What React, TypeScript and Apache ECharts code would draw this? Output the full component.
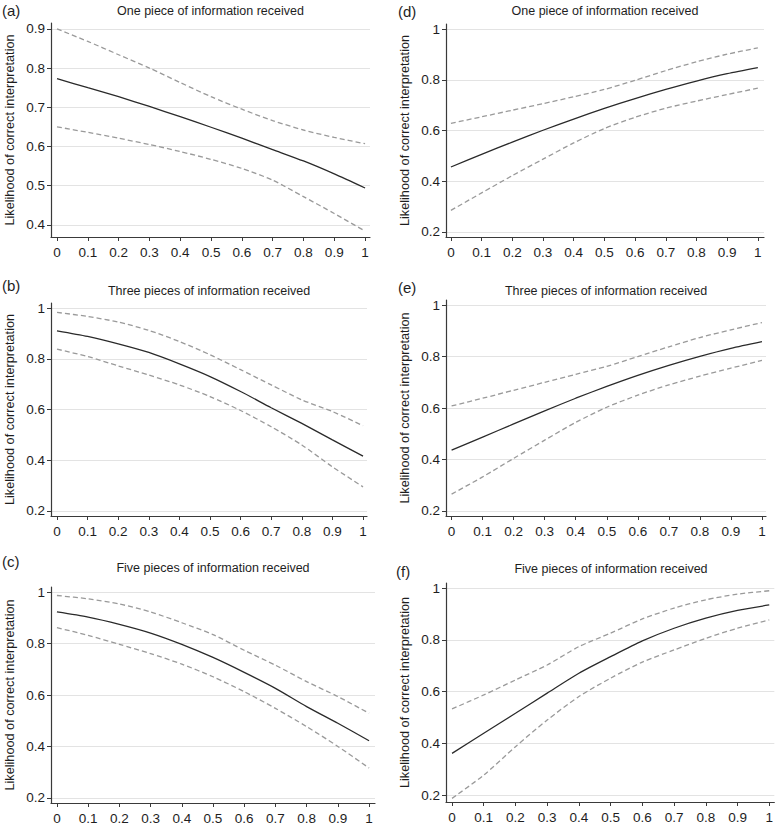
import React, { useEffect, useRef } from "react";
import * as echarts from "echarts";

// ---- data ----
const xValues = [0, 0.1, 0.2, 0.3, 0.4, 0.5, 0.6, 0.7, 0.8, 0.9, 1];
const xTickValues = [0, 0.1, 0.2, 0.3, 0.4, 0.5, 0.6, 0.7, 0.8, 0.9, 1];
const yTicksA = [0.4, 0.5, 0.6, 0.7, 0.8, 0.9];
const yTicksOther = [0.2, 0.4, 0.6, 0.8, 1];
const yAxisTitle = "Likelihood of correct interpretation";
const panelLabels = ["(a)", "(b)", "(c)", "(d)", "(e)", "(f)"];
const panelTitles = [
  "One piece of information received",
  "Three pieces of information received",
  "Five pieces of information received",
  "One piece of information received",
  "Three pieces of information received",
  "Five pieces of information received",
];

const aMid = [0.773, 0.75, 0.727, 0.702, 0.676, 0.649, 0.621, 0.592, 0.563, 0.53, 0.494];
const aUp = [0.9, 0.868, 0.834, 0.8, 0.763, 0.727, 0.695, 0.666, 0.642, 0.623, 0.607];
const aLo = [0.65, 0.636, 0.621, 0.605, 0.587, 0.567, 0.544, 0.514, 0.472, 0.429, 0.384];

const bMid = [0.91, 0.888, 0.859, 0.825, 0.78, 0.73, 0.671, 0.607, 0.545, 0.48, 0.416];
const bUp = [0.983, 0.967, 0.945, 0.912, 0.868, 0.816, 0.757, 0.697, 0.638, 0.592, 0.536];
const bLo = [0.838, 0.809, 0.772, 0.736, 0.697, 0.651, 0.596, 0.532, 0.46, 0.374, 0.295];

const cMid = [0.923, 0.903, 0.875, 0.841, 0.797, 0.746, 0.688, 0.626, 0.555, 0.49, 0.422];
const cUp = [0.987, 0.974, 0.954, 0.923, 0.881, 0.835, 0.774, 0.716, 0.652, 0.594, 0.529];
const cLo = [0.862, 0.832, 0.797, 0.761, 0.72, 0.671, 0.613, 0.548, 0.477, 0.4, 0.316];

const dMid = [0.456, 0.506, 0.554, 0.601, 0.645, 0.687, 0.726, 0.762, 0.795, 0.824, 0.848];
const dUp = [0.628, 0.654, 0.68, 0.706, 0.733, 0.762, 0.798, 0.836, 0.871, 0.901, 0.926];
const dLo = [0.285, 0.354, 0.422, 0.487, 0.551, 0.608, 0.652, 0.688, 0.716, 0.742, 0.767];

const eMid = [0.436, 0.487, 0.538, 0.589, 0.638, 0.684, 0.727, 0.766, 0.801, 0.832, 0.858];
const eUp = [0.608, 0.638, 0.669, 0.7, 0.731, 0.762, 0.8, 0.838, 0.874, 0.904, 0.932];
const eLo = [0.265, 0.332, 0.404, 0.475, 0.544, 0.603, 0.65, 0.69, 0.724, 0.755, 0.785];

const fMid = [0.361, 0.439, 0.516, 0.594, 0.671, 0.735, 0.796, 0.845, 0.884, 0.914, 0.935];
const fUp = [0.533, 0.587, 0.645, 0.703, 0.774, 0.826, 0.881, 0.923, 0.955, 0.977, 0.99];
const fLo = [0.187, 0.277, 0.387, 0.49, 0.581, 0.652, 0.714, 0.761, 0.806, 0.845, 0.877];

const panelData = [
  { mid: aMid, up: aUp, lo: aLo, yTicks: yTicksA },
  { mid: bMid, up: bUp, lo: bLo, yTicks: yTicksOther },
  { mid: cMid, up: cUp, lo: cLo, yTicks: yTicksOther },
  { mid: dMid, up: dUp, lo: dLo, yTicks: yTicksOther },
  { mid: eMid, up: eUp, lo: eLo, yTicks: yTicksOther },
  { mid: fMid, up: fUp, lo: fLo, yTicks: yTicksOther },
];

// ---- layout (pixels / axis extents) ----
const layouts = [
  { left: 51, top: 23, width: 319, height: 214, xMin: -0.0195, xMax: 1.016, yMin: 0.369, yMax: 0.915, labelX: 2, labelY: 10.5, titleY: 11 },
  { left: 51, top: 303, width: 316, height: 213, xMin: -0.0196, xMax: 1.013, yMin: 0.18, yMax: 1.02, labelX: 2, labelY: 285.5, titleY: 291 },
  { left: 51, top: 587, width: 324, height: 216, xMin: -0.019, xMax: 1.019, yMin: 0.18, yMax: 1.02, labelX: 2, labelY: 561, titleY: 568 },
  { left: 446, top: 24, width: 318, height: 213, xMin: -0.016, xMax: 1.02, yMin: 0.18, yMax: 1.02, labelX: 398, labelY: 11.5, titleY: 11 },
  { left: 446, top: 300, width: 320, height: 216, xMin: -0.018, xMax: 1.013, yMin: 0.18, yMax: 1.02, labelX: 398, labelY: 287.5, titleY: 291 },
  { left: 446, top: 583, width: 330, height: 219, xMin: -0.019, xMax: 1.016, yMin: 0.173, yMax: 1.02, labelX: 396, labelY: 571, titleY: 569 },
];

const FONT = "'Liberation Sans', Arial, Helvetica, sans-serif";
const AXIS_COLOR = "#3a3a3a";
const TEXT_COLOR = "#1e1e1e";
const GRID_COLOR = "#e3e3e3";
const SOLID_COLOR = "#2a2a2a";
const DASH_COLOR = "#9a9a9a";

function fmt(v: number): string {
  const r = Math.round(v * 100) / 100;
  return String(r);
}

export default function App() {
  const ref = useRef<HTMLDivElement>(null);

  useEffect(() => {
    if (!ref.current) return;
    const chart = echarts.init(ref.current, undefined, { renderer: "svg" });

    const grids = layouts.map((l) => ({
      left: l.left,
      top: l.top,
      width: l.width,
      height: l.height,
      containLabel: false,
    }));

    const xAxes = layouts.map((l, i) => ({
      type: "value",
      gridIndex: i,
      min: l.xMin,
      max: l.xMax,
      axisLine: { show: true, onZero: false, lineStyle: { color: AXIS_COLOR, width: 1.2 } },
      axisTick: { show: true, inside: false, length: 4, customValues: xTickValues, lineStyle: { color: AXIS_COLOR, width: 1 } },
      axisLabel: {
        show: true,
        customValues: xTickValues,
        margin: 8,
        fontSize: 13.5,
        fontFamily: FONT,
        color: TEXT_COLOR,
        formatter: (v: number) => fmt(v),
      },
      splitLine: { show: false },
    }));

    const yAxes = layouts.map((l, i) => ({
      type: "value",
      gridIndex: i,
      min: l.yMin,
      max: l.yMax,
      axisLine: { show: true, onZero: false, lineStyle: { color: AXIS_COLOR, width: 1.2 } },
      axisTick: { show: true, inside: false, length: 4, customValues: panelData[i].yTicks, lineStyle: { color: AXIS_COLOR, width: 1 } },
      axisLabel: {
        show: true,
        customValues: panelData[i].yTicks,
        margin: 6,
        fontSize: 13.5,
        fontFamily: FONT,
        color: TEXT_COLOR,
        formatter: (v: number) => fmt(v),
      },
      splitLine: { show: true, lineStyle: { color: GRID_COLOR, width: 1.2 } },
    }));

    const series: any[] = [];
    panelData.forEach((p, i) => {
      const mk = (arr: number[]) => xValues.map((x, k) => [x, arr[k]]);
      const dashed = {
        type: "line",
        xAxisIndex: i,
        yAxisIndex: i,
        showSymbol: false,
        smooth: 0.25,
        lineStyle: { color: DASH_COLOR, width: 1.3, type: [5, 3] },
        z: 3,
      };
      series.push({ ...dashed, name: `upper${i}`, data: mk(p.up) });
      series.push({ ...dashed, name: `lower${i}`, data: mk(p.lo) });
      series.push({
        type: "line",
        name: `mid${i}`,
        xAxisIndex: i,
        yAxisIndex: i,
        showSymbol: false,
        smooth: 0.25,
        lineStyle: { color: SOLID_COLOR, width: 1.3 },
        data: mk(p.mid),
        z: 4,
      });
    });

    const graphics: any[] = [];
    layouts.forEach((l, i) => {
      graphics.push({
        type: "text",
        x: l.labelX,
        y: l.labelY,
        style: { text: panelLabels[i], fontSize: 15, fontFamily: FONT, fill: TEXT_COLOR, textAlign: "left", textVerticalAlign: "middle" },
      });
      graphics.push({
        type: "text",
        x: l.left + l.width / 2,
        y: l.titleY,
        style: { text: panelTitles[i], fontSize: 12.5, fontFamily: FONT, fill: TEXT_COLOR, textAlign: "center", textVerticalAlign: "middle" },
      });
      graphics.push({
        type: "text",
        x: l.left - 41,
        y: l.top + l.height / 2,
        rotation: Math.PI / 2,
        style: { text: yAxisTitle, fontSize: 12.7, fontFamily: FONT, fill: TEXT_COLOR, textAlign: "center", textVerticalAlign: "middle" },
      });
    });

    chart.setOption({
      animation: false,
      backgroundColor: "#ffffff",
      grid: grids,
      xAxis: xAxes,
      yAxis: yAxes,
      series,
      graphic: graphics,
    });

    return () => chart.dispose();
  }, []);

  return (
    <div
      ref={ref}
      style={{ position: "absolute", left: 0, top: 0, width: 776, height: 825 }}
    />
  );
}
